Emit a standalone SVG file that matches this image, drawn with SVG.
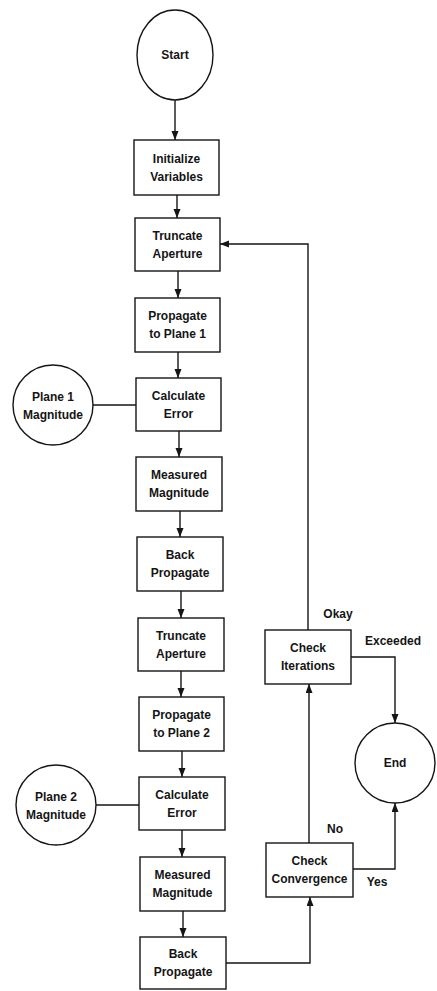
<svg xmlns="http://www.w3.org/2000/svg" width="437" height="991" viewBox="0 0 437 991">
<style>
.n{fill:#fff;stroke:#151515;stroke-width:1.4}
.t{font-family:"Liberation Sans",Arial,sans-serif;font-weight:bold;font-size:12px;fill:#151515;text-anchor:middle}
.c{fill:none;stroke:#151515;stroke-width:1.4}
</style>
<defs>
<marker id="ah" markerUnits="userSpaceOnUse" markerWidth="10" markerHeight="8" refX="9" refY="3.5" orient="auto">
<path d="M0,0 L9,3.5 L0,7 z" fill="#151515"/>
</marker>
</defs>
<rect width="437" height="991" fill="#fff"/>
<g id="connectors">
<path class="c" d="M175,100 V140" marker-end="url(#ah)"/>
<path class="c" d="M177,195 V218" marker-end="url(#ah)"/>
<path class="c" d="M178,271 V298" marker-end="url(#ah)"/>
<path class="c" d="M178,352 V378" marker-end="url(#ah)"/>
<path class="c" d="M179,431 V457" marker-end="url(#ah)"/>
<path class="c" d="M180,511 V537" marker-end="url(#ah)"/>
<path class="c" d="M181,591 V618" marker-end="url(#ah)"/>
<path class="c" d="M181,671 V697" marker-end="url(#ah)"/>
<path class="c" d="M182,751 V777" marker-end="url(#ah)"/>
<path class="c" d="M182,830 V857" marker-end="url(#ah)"/>
<path class="c" d="M183,911 V937" marker-end="url(#ah)"/>
<path class="c" d="M93,405 H136"/>
<path class="c" d="M96,805 H139"/>
<path class="c" d="M226,963 H310 V897" marker-end="url(#ah)"/>
<path class="c" d="M309,843 V684" marker-end="url(#ah)"/>
<path class="c" d="M308,630 V244 H220" marker-end="url(#ah)"/>
<path class="c" d="M351,657 H395 V723" marker-end="url(#ah)"/>
<path class="c" d="M353,869 H395 V803" marker-end="url(#ah)"/>
<text class="t" x="338" y="618">Okay</text>
<text class="t" x="393" y="645">Exceeded</text>
<text class="t" x="335" y="833">No</text>
<text class="t" x="377" y="886">Yes</text>
</g>
<g id="start"><ellipse class="n" cx="175" cy="55" rx="38" ry="45"/><text class="t" x="175" y="59">Start</text></g>
<g id="init"><rect class="n" x="134" y="140" width="85" height="55"/><text class="t" x="176.5" y="163">Initialize</text><text class="t" x="176.5" y="181">Variables</text></g>
<g id="trunc1"><rect class="n" x="135" y="218" width="85" height="53"/><text class="t" x="177.5" y="240">Truncate</text><text class="t" x="177.5" y="258">Aperture</text></g>
<g id="prop1"><rect class="n" x="135" y="298" width="85" height="54"/><text class="t" x="177.5" y="320">Propagate</text><text class="t" x="177.5" y="338">to Plane 1</text></g>
<g id="calc1"><rect class="n" x="136" y="378" width="85" height="53"/><text class="t" x="178.5" y="400">Calculate</text><text class="t" x="178.5" y="418">Error</text></g>
<g id="plane1"><circle class="n" cx="53" cy="405" r="40"/><text class="t" x="53" y="401">Plane 1</text><text class="t" x="53" y="419">Magnitude</text></g>
<g id="meas1"><rect class="n" x="136" y="457" width="86" height="54"/><text class="t" x="179" y="479">Measured</text><text class="t" x="179" y="497">Magnitude</text></g>
<g id="back1"><rect class="n" x="137" y="537" width="86" height="54"/><text class="t" x="180" y="559">Back</text><text class="t" x="180" y="577">Propagate</text></g>
<g id="trunc2"><rect class="n" x="138" y="618" width="86" height="53"/><text class="t" x="181" y="640">Truncate</text><text class="t" x="181" y="658">Aperture</text></g>
<g id="prop2"><rect class="n" x="139" y="697" width="85" height="54"/><text class="t" x="181.5" y="719">Propagate</text><text class="t" x="181.5" y="737">to Plane 2</text></g>
<g id="calc2"><rect class="n" x="139" y="777" width="86" height="53"/><text class="t" x="182" y="799">Calculate</text><text class="t" x="182" y="817">Error</text></g>
<g id="plane2"><circle class="n" cx="56" cy="805" r="40"/><text class="t" x="56" y="801">Plane 2</text><text class="t" x="56" y="819">Magnitude</text></g>
<g id="meas2"><rect class="n" x="140" y="857" width="85" height="54"/><text class="t" x="182.5" y="879">Measured</text><text class="t" x="182.5" y="897">Magnitude</text></g>
<g id="back2"><rect class="n" x="140" y="937" width="86" height="52"/><text class="t" x="183" y="958">Back</text><text class="t" x="183" y="976">Propagate</text></g>
<g id="checkiter"><rect class="n" x="265" y="630" width="86" height="54"/><text class="t" x="308" y="652">Check</text><text class="t" x="308" y="670">Iterations</text></g>
<g id="checkconv"><rect class="n" x="266" y="843" width="87" height="54"/><text class="t" x="309.5" y="865">Check</text><text class="t" x="309.5" y="883">Convergence</text></g>
<g id="end"><circle class="n" cx="395" cy="763" r="40"/><text class="t" x="395" y="767">End</text></g>
</svg>
